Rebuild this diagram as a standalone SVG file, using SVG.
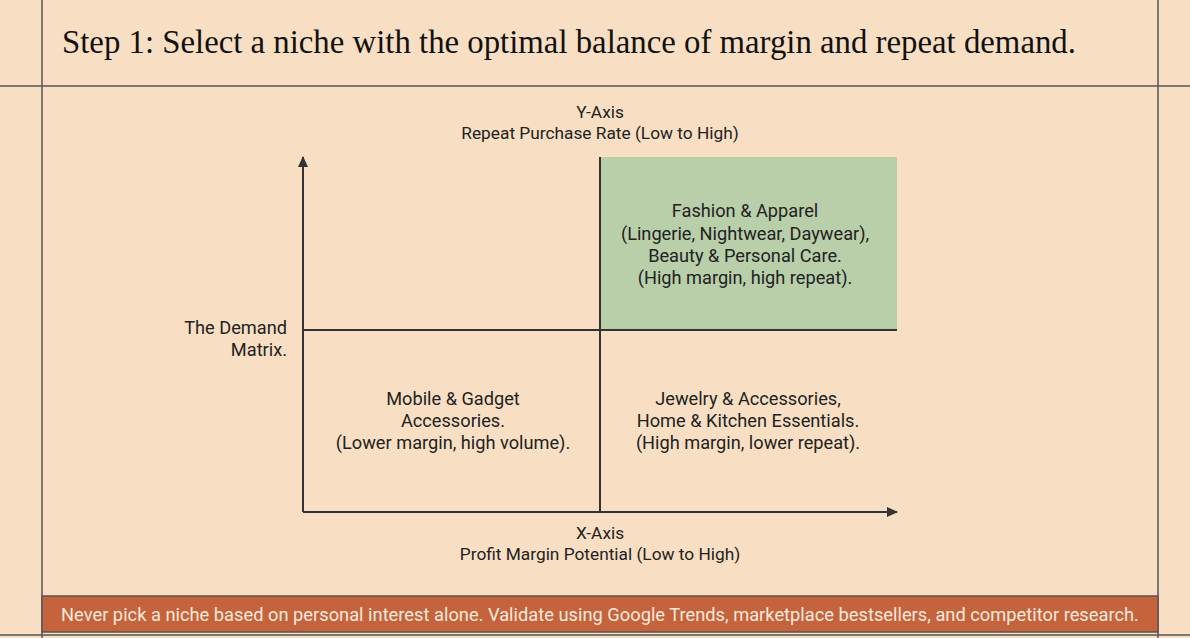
<svg xmlns="http://www.w3.org/2000/svg" width="1190" height="638" viewBox="0 0 1190 638">
<style>
.t{font-family:Roboto,"Liberation Sans",sans-serif;font-size:18.2px;fill:#222;text-anchor:middle}
.a{font-size:17.3px}
.ln{stroke:#333;stroke-width:2;fill:none}
.fr{stroke:#555;stroke-width:1.5;fill:none}
</style>
<defs><marker id="ah" markerWidth="12" markerHeight="12" refX="10" refY="6" orient="auto" markerUnits="userSpaceOnUse"><path d="M0,1 L11,6 L0,11 Z" fill="#333"/></marker></defs>
<rect width="1190" height="638" fill="#f8dfc3"/>
<g id="frame">
<line class="fr" x1="42" y1="0" x2="42" y2="638"/>
<line class="fr" x1="1158" y1="0" x2="1158" y2="638"/>
<line class="fr" x1="0" y1="86" x2="1190" y2="86"/>
<line class="fr" x1="0" y1="635" x2="1190" y2="635"/>
</g>
<g id="title"><text x="62" y="53" style="font-family:'Liberation Serif',serif;font-size:32.8px;fill:#111">Step 1: Select a niche with the optimal balance of margin and repeat demand.</text></g>
<g id="q-top-right"><rect x="600" y="157" width="297" height="173" fill="#b9cfaa"/>
<text class="t" x="745" y="217">Fashion &amp; Apparel</text>
<text class="t" x="745" y="240">(Lingerie, Nightwear, Daywear),</text>
<text class="t" x="745" y="262">Beauty &amp; Personal Care.</text>
<text class="t" x="745" y="284">(High margin, high repeat).</text></g>
<g id="connectors">
<line class="ln" x1="303" y1="512" x2="303" y2="157" marker-end="url(#ah)"/>
<line class="ln" x1="303" y1="512" x2="897" y2="512" marker-end="url(#ah)"/>
<line class="ln" x1="600" y1="157" x2="600" y2="512"/>
<line class="ln" x1="303" y1="330" x2="897" y2="330"/>
</g>
<g id="y-label"><text class="t a" x="600" y="118">Y-Axis</text><text class="t a" x="600" y="139">Repeat Purchase Rate (Low to High)</text></g>
<g id="x-label"><text class="t a" x="600" y="539">X-Axis</text><text class="t a" x="600" y="560">Profit Margin Potential (Low to High)</text></g>
<g id="matrix-label"><text class="t" x="287" y="334" style="text-anchor:end">The Demand</text><text class="t" x="287" y="356" style="text-anchor:end">Matrix.</text></g>
<g id="q-bottom-left"><text class="t" x="453" y="405">Mobile &amp; Gadget</text><text class="t" x="453" y="427">Accessories.</text><text class="t" x="453" y="449">(Lower margin, high volume).</text></g>
<g id="q-bottom-right"><text class="t" x="748" y="405">Jewelry &amp; Accessories,</text><text class="t" x="748" y="427">Home &amp; Kitchen Essentials.</text><text class="t" x="748" y="449">(High margin, lower repeat).</text></g>
<g id="footer"><rect x="42" y="596" width="1116" height="36" fill="#c4633c" stroke="#555" stroke-width="1.5"/>
<text x="600" y="621" class="t" style="fill:#fbe9dc;font-size:18.3px">Never pick a niche based on personal interest alone. Validate using Google Trends, marketplace bestsellers, and competitor research.</text></g>
</svg>
